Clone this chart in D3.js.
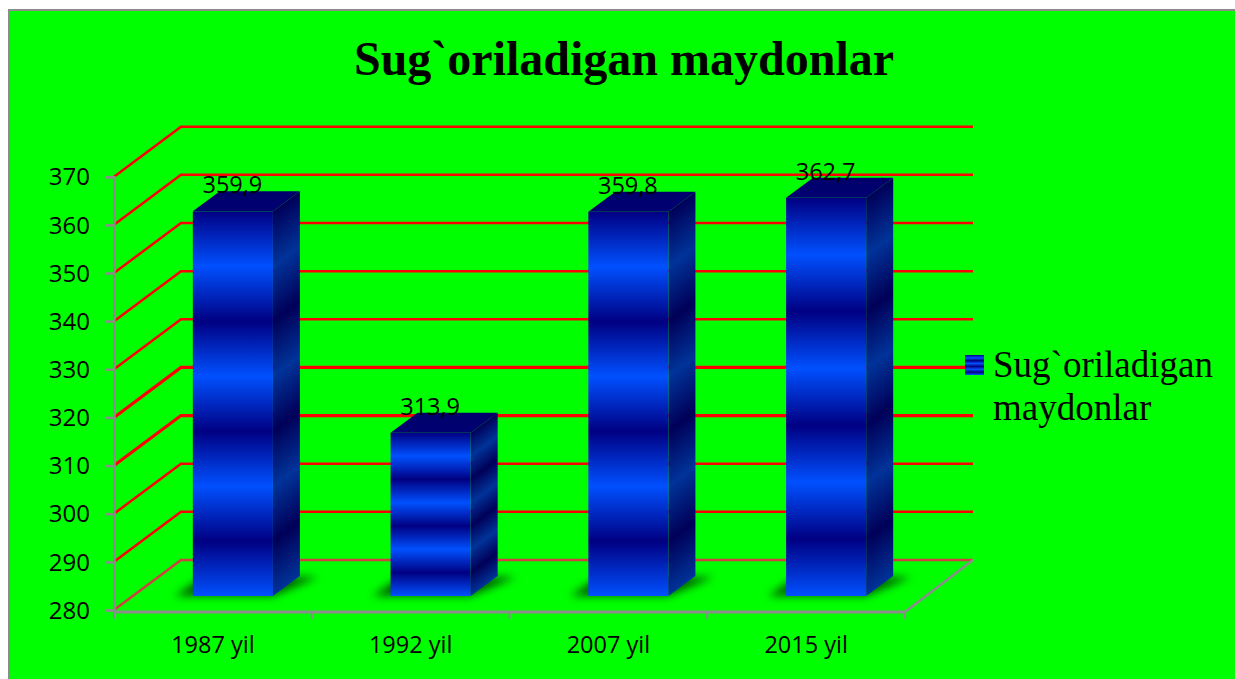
<!DOCTYPE html>
<html><head><meta charset="utf-8">
<style>html,body{margin:0;padding:0;background:#fff;overflow:hidden}svg{display:block}</style>
<script src="https://cdn.jsdelivr.net/npm/d3@7"></script></head>
<body><svg id="c" width="1235" height="679"></svg>
<script>
const titleText = "Sug`oriladigan maydonlar";
const categories = ["1987 yil", "1992 yil", "2007 yil", "2015 yil"];
const values = [359.9, 313.9, 359.8, 362.7];
const yTickValues = [280, 290, 300, 310, 320, 330, 340, 350, 360, 370];
const legendLines = ["Sug`oriladigan", "maydonlar"];

const svg = d3.select("#c");
const defs = svg.append("defs");
const catFont = "'Open Sans', sans-serif";
const serif = "'Liberation Serif', serif";

svg.append("rect").attr("x", 9).attr("y", 10).attr("width", 1240).attr("height", 680)
  .attr("fill", "#00ff00").attr("stroke", "#8c8c8c").attr("stroke-width", 2);

const y = d3.scaleLinear().domain([280, 370]).range([610, 176.7]);
const x = d3.scaleBand().domain(categories).range([114, 905]).paddingInner(0.595).paddingOuter(0.2975);
const wall = {dx: 67, dy: -50};
const inset = {dx: 20, dy: -14};
const depth = {dx: 27, dy: -20};
const baseY = y(280) + inset.dy;

// gridlines
const weight = d => (d === 310 || d === 320) ? 3.2 : 2.5;
const grid = svg.append("g").attr("fill", "none");
grid.selectAll("path").data(yTickValues).join("path")
  .attr("d", d => `M${x.range()[0]},${y(d)}L${x.range()[0] + wall.dx},${y(d) + wall.dy}H973`)
  .attr("stroke", d => d === 280 ? "#d04040" : "#ff0000")
  .attr("stroke-width", weight);

// floor edge
svg.append("path").attr("d", `M905,${y(280) + 2}L973,${y(280) + wall.dy}`)
  .attr("stroke", "#8c8c8c").attr("stroke-width", 2.5).attr("fill", "none");

// axes
const axL = svg.append("g").attr("transform", "translate(114,0)")
  .call(d3.axisLeft(y).tickValues(yTickValues).tickSize(8).tickPadding(16));
axL.selectAll("path,line").attr("stroke", "#8c8c8c").attr("stroke-width", 2.5);
axL.selectAll("text").attr("font-family", catFont).attr("font-size", 24).attr("fill", "#000").attr("dy", "0.34em");

const edges = categories.map(c => x(c) - x.step() * x.paddingInner() / 2).concat(x.range()[1]);
const axB = svg.append("g").attr("transform", `translate(0,${y(280) + 2})`);
axB.append("path").attr("d", `M${x.range()[0]},0H${x.range()[1]}`).attr("stroke", "#8c8c8c").attr("stroke-width", 3);
axB.selectAll("line").data(edges).join("line")
  .attr("x1", d => d).attr("x2", d => d).attr("y1", 0).attr("y2", 7)
  .attr("stroke", "#8c8c8c").attr("stroke-width", 2);
axB.selectAll("text").data(categories).join("text")
  .attr("x", d => x(d) + x.bandwidth() / 2).attr("y", 41)
  .attr("text-anchor", "middle").attr("font-family", catFont).attr("font-size", 23.5).text(d => d);

// shadow filter
const f = defs.append("filter").attr("id", "blur").attr("x", "-30%").attr("y", "-60%").attr("width", "160%").attr("height", "220%");
f.append("feGaussianBlur").attr("stdDeviation", 4.5);

// gradients
const stops = (g, dark, bright) => {
  d3.range(8).forEach(i => g.append("stop").attr("offset", i / 7).attr("stop-color", i % 2 ? bright : dark));
};
const shapes = categories.map((c, i) => {
  const x0 = x(c) + inset.dx, x1 = x0 + x.bandwidth();
  return {c, i, v: values[i], x0, x1, top: y(values[i]) + inset.dy};
});
shapes.forEach(s => {
  const H = baseY - s.top;
  stops(defs.append("linearGradient").attr("id", "front" + s.i)
    .attr("gradientUnits", "userSpaceOnUse")
    .attr("x1", s.x0).attr("x2", s.x0).attr("y1", s.top).attr("y2", baseY), "#000082", "#0050ff");
  const len = Math.hypot(depth.dx, depth.dy), nx = -depth.dy / len, ny = depth.dx / len;
  const d = H / (ny + nx * (-depth.dy / depth.dx));
  stops(defs.append("linearGradient").attr("id", "side" + s.i)
    .attr("gradientUnits", "userSpaceOnUse")
    .attr("x1", s.x1).attr("y1", s.top).attr("x2", s.x1 + nx * d).attr("y2", s.top + ny * d), "#000058", "#003399");
});
const topG = defs.append("linearGradient").attr("id", "topFace").attr("x1", 0).attr("x2", 0).attr("y1", 0).attr("y2", 1);
topG.append("stop").attr("offset", 0).attr("stop-color", "#00006c");
topG.append("stop").attr("offset", 1).attr("stop-color", "#000072");

const bars = svg.append("g").selectAll("g").data(shapes).join("g");
bars.append("path")
  .attr("d", s => `M${s.x0 - 18},${baseY}H${s.x1}L${s.x1 + depth.dx + 18},${baseY + depth.dy + 1}H${s.x0 + 10}Z`)
  .attr("fill", "#006000").attr("filter", "url(#blur)");
bars.append("path")
  .attr("d", s => `M${s.x1},${s.top}L${s.x1 + depth.dx},${s.top + depth.dy}V${baseY + depth.dy}L${s.x1},${baseY}Z`)
  .attr("fill", s => `url(#side${s.i})`);
bars.append("path")
  .attr("d", s => `M${s.x0},${s.top}L${s.x0 + depth.dx},${s.top + depth.dy}H${s.x1 + depth.dx}L${s.x1},${s.top}Z`)
  .attr("fill", "url(#topFace)");
bars.append("rect")
  .attr("x", s => s.x0).attr("y", s => s.top).attr("width", x.bandwidth()).attr("height", s => baseY - s.top)
  .attr("fill", s => `url(#front${s.i})`);
bars.append("text")
  .attr("x", s => (s.x0 + s.x1) / 2 - 0.5).attr("y", s => s.top + depth.dy + 2)
  .attr("text-anchor", "middle").attr("font-family", catFont).attr("font-size", 23.5).attr("fill", "#000")
  .text(s => String(s.v.toFixed(1)).replace(".", ","));

// title
svg.append("text").attr("x", 624).attr("y", 75).attr("text-anchor", "middle")
  .attr("font-family", serif).attr("font-weight", "bold").attr("font-size", 48).text(titleText);

// legend
const lg = defs.append("linearGradient").attr("id", "leg").attr("x1", 0).attr("x2", 0).attr("y1", 0).attr("y2", 1);
stops(lg, "#000082", "#0050ff");
svg.append("rect").attr("x", 965).attr("y", 355).attr("width", 19).attr("height", 20).attr("fill", "url(#leg)");
svg.append("g").selectAll("text").data(legendLines).join("text")
  .attr("x", 993).attr("y", (d, i) => 377 + i * 43)
  .attr("font-family", serif).attr("font-size", 37).text(d => d);
</script></body></html>
